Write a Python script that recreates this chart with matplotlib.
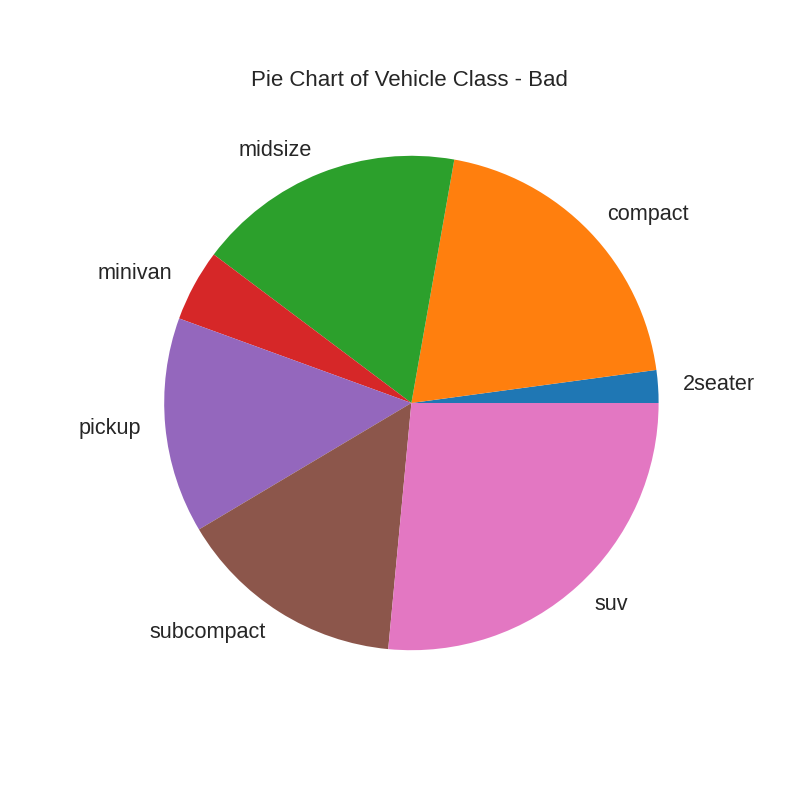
import matplotlib.pyplot as plt

# vehicle class counts (mpg dataset)
classes = ['2seater', 'compact', 'midsize', 'minivan', 'pickup', 'subcompact', 'suv']
counts = [5, 47, 41, 11, 33, 35, 62]

plt.rcParams['font.family'] = ['Liberation Sans', 'DejaVu Sans']

fig = plt.figure(figsize=(8, 8), dpi=100)

# axes placed so the pie sits where the reference has it
lim = 1.25
ax = fig.add_axes([0.128, 0.110, 0.7725, 0.7725])
colors = ['#1f77b4', '#ff7f0e', '#2ca02c', '#d62728', '#9467bd', '#8c564b', '#e377c2']
ax.pie(counts, labels=classes, colors=colors, startangle=0, labeldistance=1.1,
       textprops={'fontsize': 15.6, 'color': '#262626'})
ax.set_xlim(-lim, lim)
ax.set_ylim(-lim, lim)
ax.set_aspect('equal')

fig.text(0.512, 0.9, 'Pie Chart of Vehicle Class - Bad', ha='center', va='center',
         fontsize=16, color='#262626')

plt.savefig('out.png')
